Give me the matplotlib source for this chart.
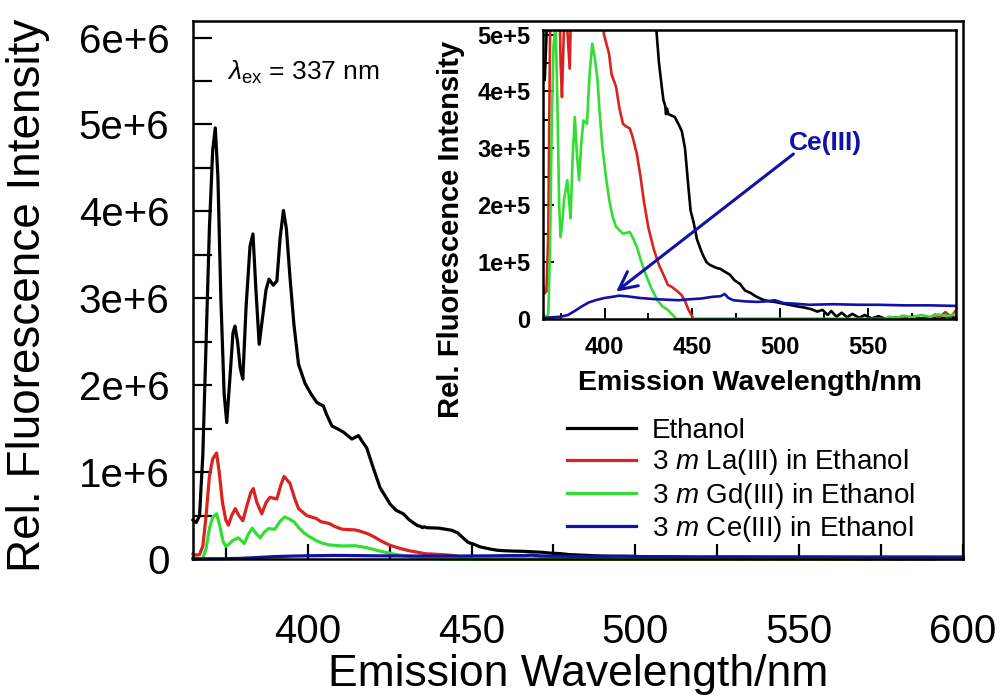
import matplotlib
matplotlib.use("Agg")
import matplotlib.pyplot as plt
from matplotlib.ticker import MultipleLocator, FuncFormatter

plt.rcParams['font.family'] = ['Liberation Sans', 'DejaVu Sans']
plt.rcParams['mathtext.fontset'] = 'custom'
plt.rcParams['mathtext.rm'] = 'Liberation Sans'
plt.rcParams['mathtext.it'] = 'Liberation Sans:italic'

# emission spectra, wavelength in nm / intensity in counts
eth_nm = [365, 366, 367, 368, 369, 370, 371, 371.8, 372.6, 373.5, 374.5, 375.3,
          376.3, 377.2, 377.8, 378.6, 379.4, 380.2, 381.2, 382.4, 383.3, 384.2,
          385.2, 386.3, 387.3, 388.2, 389.5, 390.6, 391.6, 392.6, 393.5, 394.6,
          395.8, 397.2, 399.2, 401, 402.8, 404.8, 405.8, 407.4, 409, 410.9, 413.5,
          415.5, 416.5, 418, 420, 422.1, 425.2, 427, 429.2, 431, 432.5, 433.5,
          434.5, 435, 435.5, 436.4, 440, 442.5, 444, 445.8, 447.5, 449, 450.7,
          452.6, 455.6, 458, 460, 463.5, 466, 468, 471.3, 474, 477, 480, 483, 486,
          490, 494, 497, 500, 505, 510, 514, 518, 521, 524, 527, 529, 532, 535,
          538, 541, 545, 548, 552, 556, 560, 565, 570, 575, 580, 585, 590, 595, 600]
eth_int = [0.45e6, 0.42e6, 0.50e6, 1.2e6, 2.5e6, 3.8e6, 4.7e6, 4.96e6, 4.4e6, 3.0e6,
           1.9e6, 1.57e6, 2.1e6, 2.6e6, 2.68e6, 2.5e6, 2.2e6, 2.07e6, 2.9e6, 3.6e6,
           3.74e6, 3.1e6, 2.47e6, 2.8e6, 3.1e6, 3.22e6, 3.15e6, 3.2e6, 3.7e6, 4.01e6,
           3.8e6, 3.24e6, 2.7e6, 2.24e6, 2.02e6, 1.90e6, 1.80e6, 1.76e6, 1.66e6,
           1.53e6, 1.50e6, 1.46e6, 1.38e6, 1.42e6, 1.36e6, 1.28e6, 1.05e6, 0.82e6,
           0.63e6, 0.56e6, 0.52e6, 0.45e6, 0.41e6, 0.385e6, 0.375e6, 0.36e6, 0.37e6,
           0.36e6, 0.355e6, 0.34e6, 0.33e6, 0.30e6, 0.24e6, 0.19e6, 0.17e6, 0.14e6,
           0.115e6, 0.10e6, 0.095e6, 0.09e6, 0.088e6, 0.084e6, 0.078e6, 0.068e6,
           0.062e6, 0.05e6, 0.046e6, 0.04e6, 0.034e6, 0.031e6, 0.030e6, 0.028e6,
           0.025e6, 0.022e6, 0.020e6, 0.017e6, 0.013e6, 0.016e6, 0.007e6, 0.014e6,
           0.004e6, 0.011e6, 0.003e6, 0.009e6, 0.002e6, 0.007e6, 0.001e6, 0.005e6,
           0.0, 0.003e6, 0.0, 0.004e6, 0.001e6, 0.003e6, 0.0, 0.004e6, 0.002e6]

la_nm = [365, 366, 367, 368, 369, 370, 371, 372.2, 373, 374, 375, 375.8, 376.8,
         377.9, 379, 380.2, 381.5, 382.6, 383.4, 384.5, 386, 387.3, 388.5, 390.6,
         391.8, 392.8, 394.6, 396, 397.2, 399.7, 402.6, 404, 406.6, 408.5, 410.5,
         412.5, 414.4, 416, 418.4, 420.5, 422.3, 425, 428.2, 431, 434.1, 436, 438,
         441, 443.9, 446, 447.8, 450.7, 500, 550, 585, 588, 590, 594, 597, 600]
la_int = [0.06e6, 0.045e6, 0.05e6, 0.15e6, 0.5e6, 0.95e6, 1.15e6, 1.22e6, 1.0e6,
          0.65e6, 0.45e6, 0.39e6, 0.50e6, 0.58e6, 0.50e6, 0.44e6, 0.62e6, 0.76e6,
          0.81e6, 0.65e6, 0.52e6, 0.65e6, 0.71e6, 0.69e6, 0.85e6, 0.95e6, 0.87e6,
          0.70e6, 0.58e6, 0.50e6, 0.466e6, 0.43e6, 0.408e6, 0.37e6, 0.343e6,
          0.338e6, 0.335e6, 0.32e6, 0.29e6, 0.25e6, 0.209e6, 0.16e6, 0.121e6,
          0.095e6, 0.074e6, 0.06e6, 0.057e6, 0.05e6, 0.042e6, 0.03e6, 0.016e6, 0.0,
          0.0, 0.0, 0.0, 0.008e6, 0.002e6, 0.012e6, 0.004e6, 0.015e6]

gd_nm = [365, 366, 367, 368, 369, 370, 371, 372.2, 373.2, 374.2, 375, 376, 377,
         378.8, 379.8, 380.7, 381.8, 383.1, 384.3, 385.5, 386.8, 388, 390, 391.5,
         393, 394.4, 395.9, 397.3, 398.8, 400.8, 402.7, 404.6, 406.6, 410.5, 414.4,
         416.5, 418.4, 421, 423.3, 426.5, 430.1, 433, 436, 438.5, 440.9, 500, 560,
         562, 566, 570, 575, 580, 585, 590, 595, 600]
gd_int = [0.01e6, 0.005e6, 0.0, 0.01e6, 0.12e6, 0.35e6, 0.48e6, 0.52e6, 0.38e6,
          0.20e6, 0.144e6, 0.17e6, 0.21e6, 0.244e6, 0.21e6, 0.177e6, 0.28e6,
          0.355e6, 0.29e6, 0.244e6, 0.31e6, 0.349e6, 0.343e6, 0.43e6, 0.484e6,
          0.46e6, 0.425e6, 0.36e6, 0.302e6, 0.25e6, 0.209e6, 0.18e6, 0.162e6,
          0.150e6, 0.153e6, 0.14e6, 0.127e6, 0.10e6, 0.08e6, 0.055e6, 0.033e6,
          0.022e6, 0.016e6, 0.008e6, 0.0, 0.0, 0.0, 0.004e6, 0.002e6, 0.006e6,
          0.003e6, 0.007e6, 0.004e6, 0.008e6, 0.005e6, 0.009e6]

ce_nm = [365, 370, 375, 379.2, 383, 387, 391, 394.9, 400, 404.7, 408, 412.6, 420,
         428.2, 435, 441.9, 449.8, 455, 461.5, 466, 468.4, 470.5, 473.3, 480,
         487.1, 492, 496.9, 502, 508, 516.5, 530, 545, 555.6, 570, 585, 600]
ce_int = [0.002e6, 0.003e6, 0.004e6, 0.007e6, 0.014e6, 0.022e6, 0.029e6, 0.033e6,
          0.037e6, 0.039e6, 0.041e6, 0.040e6, 0.037e6, 0.035e6, 0.034e6, 0.033e6,
          0.035e6, 0.036e6, 0.039e6, 0.040e6, 0.044e6, 0.037e6, 0.033e6, 0.031e6,
          0.030e6, 0.031e6, 0.033e6, 0.028e6, 0.027e6, 0.025e6, 0.026e6, 0.025e6,
          0.025e6, 0.024e6, 0.024e6, 0.023e6]

labels = ["Ethanol",
          r"$\mathit{3\ m}$ La(III) in Ethanol",
          r"3 $\mathit{m}$ Gd(III) in Ethanol",
          r"3 $\mathit{m}$ Ce(III) in Ethanol"]
colors = ["#000000", "#d8231e", "#33dd33", "#1111a8"]
series = [(eth_nm, eth_int), (la_nm, la_int), (gd_nm, gd_int), (ce_nm, ce_int)]

fig = plt.figure(figsize=(10.03, 6.99), dpi=100)
W, H = 1003, 699

# main panel
ax = fig.add_axes([193 / W, 1 - 559 / H, 770 / W, 538 / H])
for (x, y), c, lab in zip(series, colors, labels):
    ax.plot(x, y, color=c, lw=2.3, label=lab, clip_on=False)

ax.set_xlim(365, 600)
ax.set_ylim(0, 6.19e6)
ax.xaxis.set_major_locator(MultipleLocator(50))
ax.xaxis.set_minor_locator(MultipleLocator(25))
ax.yaxis.set_major_locator(MultipleLocator(1e6))
ax.yaxis.set_minor_locator(MultipleLocator(5e5))
ax.yaxis.set_major_formatter(FuncFormatter(
    lambda v, p: "0" if v == 0 else "%de+6" % round(v / 1e6)))
ax.tick_params(axis="x", which="both", direction="in", length=11, width=1.6,
               labelsize=29, pad=39, top=False)
ax.tick_params(axis="y", which="both", direction="in", length=14, width=1.6,
               labelsize=29, pad=17, right=False)
for s in ax.spines.values():
    s.set_linewidth(1.8)

ax.set_xlabel("Emission Wavelength/nm", fontsize=32, va="center")
ax.xaxis.set_label_coords(0.5, -0.214)
ax.set_ylabel("Rel. Fluorescence Intensity", fontsize=33, va="center")
ax.yaxis.set_label_coords(-0.214, 0.49)

ax.text(375.5, 5.6e6, r"$\lambda_{\rm ex}$ = 337 nm", fontsize=19,
        ha="left", va="center")

ax.legend(loc="upper left", bbox_to_anchor=(567 / W, 1 - 418 / H),
          bbox_transform=fig.transFigure, frameon=False, borderpad=0,
          borderaxespad=0, labelspacing=0.12, handlelength=2.5,
          handletextpad=0.55, fontsize=20)

# zoomed inset of the low-intensity region
axi = fig.add_axes([543 / W, 1 - 319 / H, 413 / W, 289 / H])
axi.set_facecolor("white")
for (x, y), c in zip(series, colors):
    axi.plot(x, y, color=c, lw=1.9)
axi.set_xlim(365, 600)
axi.set_ylim(0, 5.08e5)
axi.set_xticks([400, 450, 500, 550])
axi.xaxis.set_minor_locator(MultipleLocator(25))
axi.yaxis.set_major_locator(MultipleLocator(1e5))
axi.yaxis.set_minor_locator(MultipleLocator(5e4))
axi.yaxis.set_major_formatter(FuncFormatter(
    lambda v, p: "0" if v == 0 else "%de+5" % round(v / 1e5)))
axi.tick_params(which="major", direction="in", length=8, width=1.4,
                labelsize=17, top=False, right=False)
axi.tick_params(which="minor", direction="in", length=4.5, width=1.4,
                top=False, right=False)
axi.tick_params(axis="x", pad=12)
axi.tick_params(axis="y", pad=9)
for t in axi.get_xticklabels() + axi.get_yticklabels():
    t.set_fontweight("bold")
for s in axi.spines.values():
    s.set_linewidth(1.8)
axi.set_xlabel("Emission Wavelength/nm", fontsize=20.5, fontweight="bold",
               va="center")
axi.xaxis.set_label_coords(0.501, -0.221)
axi.set_ylabel("Rel. Fluorescence Intensity", fontsize=21, fontweight="bold",
               va="center")
axi.yaxis.set_label_coords(-0.223, 0.31)

axi.annotate("", xy=(406.6, 4.8e4), xytext=(507.5, 2.9e5),
             arrowprops=dict(arrowstyle="->", color="#1111a8", lw=2.2,
                             mutation_scale=32, shrinkA=0, shrinkB=0))
axi.text(525.8, 3.09e5, "Ce(III)", color="#1111a8", fontsize=19,
         fontweight="bold", ha="center", va="center")

fig.savefig("out.png", dpi=100)
